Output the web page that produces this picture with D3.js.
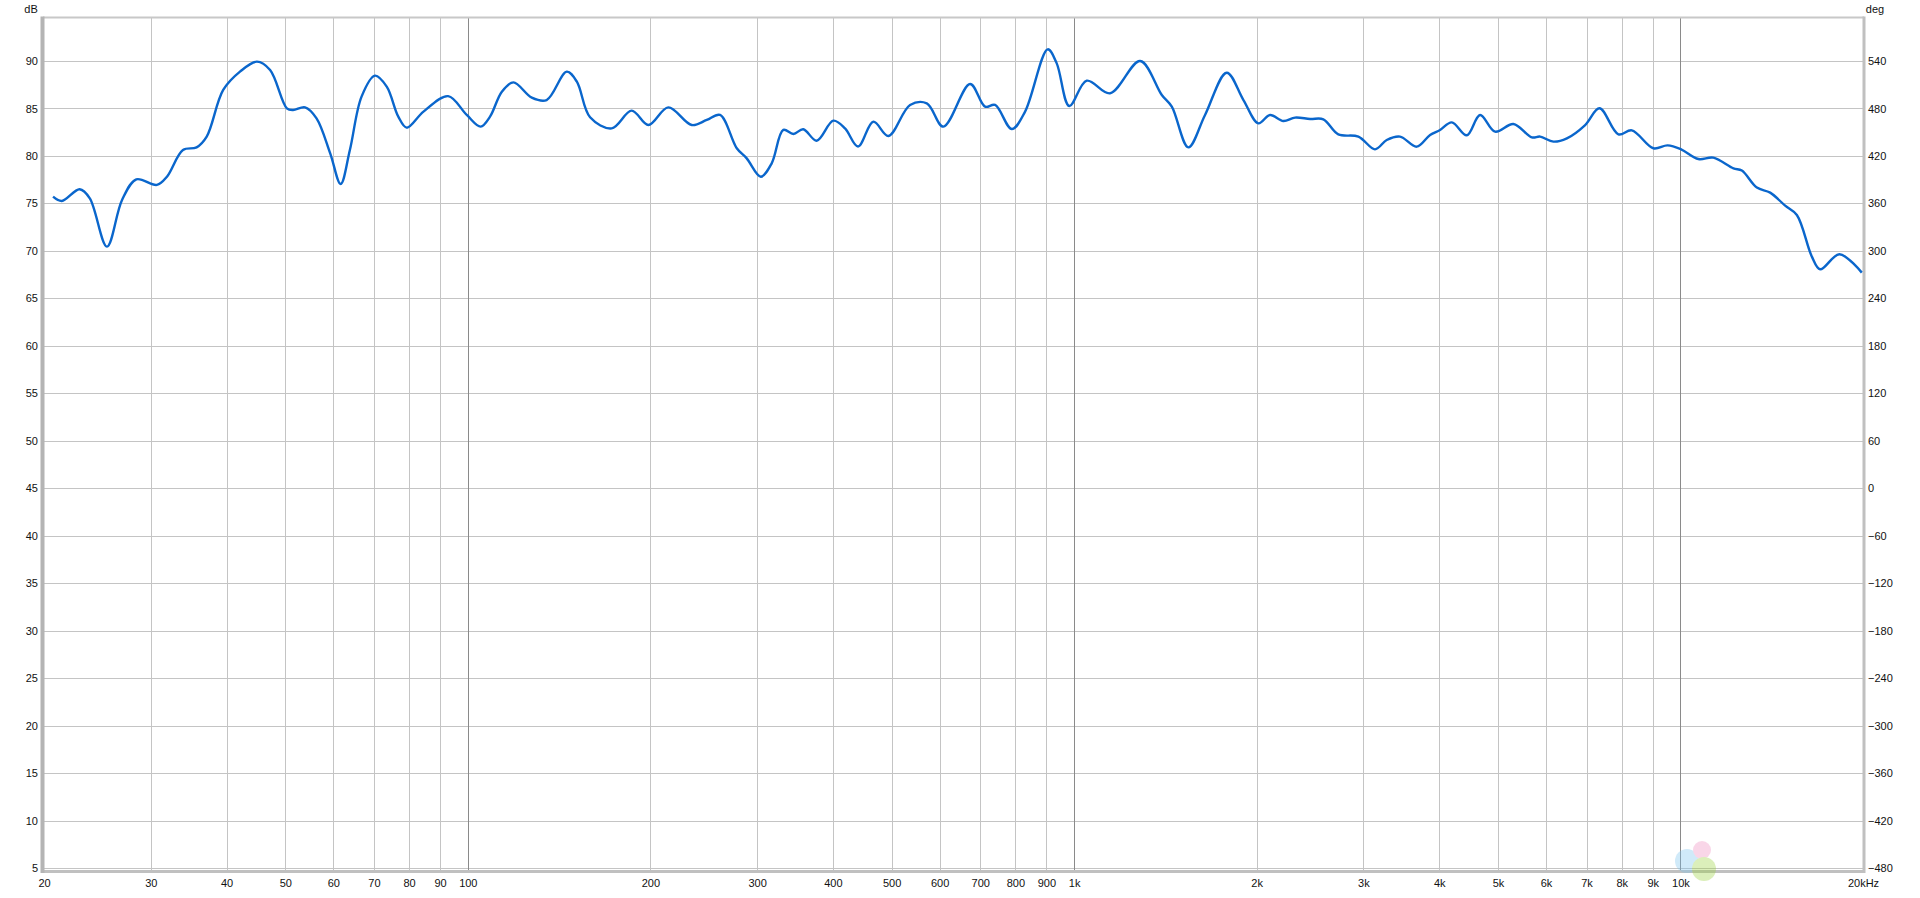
<!DOCTYPE html>
<html><head><meta charset="utf-8">
<script src="https://cdn.jsdelivr.net/npm/d3@7"></script>
<style>
body{margin:0;background:#fff;}
svg{display:block;}
text{font-family:"Liberation Sans",Arial,sans-serif;font-size:11px;fill:#111;}
</style>
</head><body>
<svg id="c" width="1920" height="898"></svg>
<script>
// ---- data ----
const freqHz = [20.7,21.4,22.9,23.8,25.4,26.9,28.4,30.7,31.9,33.9,35.7,37.1,39.5,42.1,44.9,47.2,50.3,51.5,53.9,56.3,59.3,61.7,63.9,66.8,70.3,73.5,76.8,79.3,84.5,92.8,
  99.6,105.0,108.8,113.8,118.9,127.5,134.9,145.6,151.3,159.1,172.7,186.3,198.5,214.1,234.1,247.8,260.6,277.7,288.4,304.2,317.1,331.4,344.3,357.5,376.2,400.7,418.9,440.1,
  466.4,494.0,536.3,571.5,608.6,673.6,713.0,740.7,789.1,830.0,904.5,936.0,981.8,1049,1146,1285,1395,1449,1543,1644,1785,1902,2013,2104,
  2213,2314,2450,2576,2727,2943,3135,3277,3447,3673,3864,4013,4196,4442,4672,4946,5302,5687,5869,6173,6496,6963,7352,7900,8313,9022,9522,10024,
  10704,11331,12228,12625,13365,14058,14882,15558,16471,16998,18286,19909];
const levelDb = [75.72,75.26,76.49,75.54,70.46,75.37,77.54,76.95,77.82,80.63,80.91,82.04,86.95,88.88,89.93,89.05,85.02,84.84,85.12,83.96,80.28,77.05,80.63,86.25,88.46,87.30,84.14,82.98,84.67,86.3,
  84.32,83.09,84.14,86.77,87.75,86.14,85.89,88.88,87.82,84.07,82.91,84.77,83.26,85.12,83.26,83.79,84.32,80.81,79.75,77.82,79.23,82.74,82.32,82.81,81.61,83.72,82.91,81.0,
  83.61,82.11,85.37,85.54,83.09,87.58,85.19,85.37,82.84,84.67,91.23,89.75,85.26,87.93,86.60,90.0,86.42,85.19,80.91,84.32,88.77,85.89,83.44,84.32,
  83.68,84.04,83.89,83.86,82.28,82.04,80.70,81.68,82.04,80.98,82.21,82.74,83.54,82.18,84.32,82.56,83.37,81.96,82.04,81.51,81.86,83.26,85.02,82.28,82.7,80.81,81.12,80.70,
  79.68,79.82,78.70,78.46,76.67,76.14,74.77,73.79,69.40,68.07,69.65,67.72];
const dbTicks = [5,10,15,20,25,30,35,40,45,50,55,60,65,70,75,80,85,90];
const degTicks = [-480,-420,-360,-300,-240,-180,-120,-60,0,60,120,180,240,300,360,420,480,540];
const freqTicks = [20,30,40,50,60,70,80,90,100,200,300,400,500,600,700,800,900,1000,2000,3000,4000,5000,6000,7000,8000,9000,10000,20000];
const freqLabels = ["20","30","40","50","60","70","80","90","100","200","300","400","500","600","700","800","900","1k","2k","3k","4k","5k","6k","7k","8k","9k","10k","20kHz"];
const decadeLines = [100,1000,10000];

// ---- layout ----
const L = 44, R = 1863, T = 18, B = 871;
const svg = d3.select("#c");
const x = d3.scaleLog().domain([20, 20000]).range([L, R]);
const y = d3.scaleLinear().domain([5, 90]).range([868.3, 61]);
const yDeg = d3.scaleLinear().domain([-480, 540]).range([868.3, 61]);

// gridlines horizontal
const gH = svg.append("g").attr("transform", `translate(${L},0)`)
  .call(d3.axisLeft(y).tickValues(dbTicks).tickSize(-(R - L)).tickFormat(""));
gH.select(".domain").remove();
gH.selectAll("line").attr("stroke", "#c4c4c4").attr("shape-rendering", "crispEdges");

// gridlines vertical
const gV = svg.append("g").attr("transform", `translate(0,${B})`)
  .call(d3.axisBottom(x).tickValues(freqTicks.filter(f => f > 20 && f < 20000)).tickSize(-(B - T)).tickFormat(""));
gV.select(".domain").remove();
gV.selectAll("line")
  .attr("stroke", d => decadeLines.includes(d) ? "#8a8a8a" : "#c4c4c4")
  .attr("shape-rendering", "crispEdges");

// frame
svg.append("line").attr("x1", L - 1).attr("x2", R + 1).attr("y1", T - 0.5).attr("y2", T - 0.5).attr("stroke", "#c8c8c8").attr("stroke-width", 2);
svg.append("line").attr("x1", L - 1).attr("x2", R + 1).attr("y1", B + 0.5).attr("y2", B + 0.5).attr("stroke", "#c0c0c0").attr("stroke-width", 3);
svg.append("line").attr("x1", L - 1.5).attr("x2", L - 1.5).attr("y1", T - 1.5).attr("y2", B + 2).attr("stroke", "#b4b4b4").attr("stroke-width", 4);
svg.append("line").attr("x1", R + 1).attr("x2", R + 1).attr("y1", T - 1.5).attr("y2", B + 2).attr("stroke", "#c0c0c0").attr("stroke-width", 3);

// watermark circles
const wm = svg.append("g").attr("opacity", 0.35);
wm.append("circle").attr("cx", 1687).attr("cy", 861).attr("r", 12).attr("fill", "#7cc4f0");
wm.append("circle").attr("cx", 1702).attr("cy", 850).attr("r", 9).attr("fill", "#f08cc0");
wm.append("circle").attr("cx", 1704).attr("cy", 869).attr("r", 12).attr("fill", "#9ad23c");

// curve
const pts = freqHz.map((f, i) => [f, levelDb[i]]);
svg.append("path").datum(pts)
  .attr("fill", "none").attr("stroke", "#0a66cc").attr("stroke-width", 2.4)
  .attr("stroke-linejoin", "round")
  .attr("d", d3.line().x(d => x(d[0])).y(d => y(d[1])).curve(d3.curveCatmullRom.alpha(0.5)));

// left axis labels
const aL = svg.append("g").attr("transform", `translate(${L - 6},0)`)
  .call(d3.axisLeft(y).tickValues(dbTicks).tickSize(0).tickPadding(0));
aL.select(".domain").remove();
aL.selectAll("text").attr("fill", "#111").style("font-size", "11px");

// right axis labels
const aR = svg.append("g").attr("transform", `translate(${R + 5},0)`)
  .call(d3.axisRight(yDeg).tickValues(degTicks).tickSize(0).tickPadding(0));
aR.select(".domain").remove();
aR.selectAll("text").attr("fill", "#111").style("font-size", "11px");

// bottom axis labels
const aB = svg.append("g").attr("transform", `translate(0,${B + 8})`)
  .call(d3.axisBottom(x).tickValues(freqTicks).tickSize(0).tickPadding(0)
    .tickFormat((d, i) => freqLabels[i]));
aB.select(".domain").remove();
aB.selectAll("text").attr("fill", "#111").style("font-size", "11px");

// unit labels
svg.append("text").attr("x", 31).attr("y", 13).attr("text-anchor", "middle").text("dB");
svg.append("text").attr("x", 1875).attr("y", 13).attr("text-anchor", "middle").text("deg");
</script>
</body></html>
